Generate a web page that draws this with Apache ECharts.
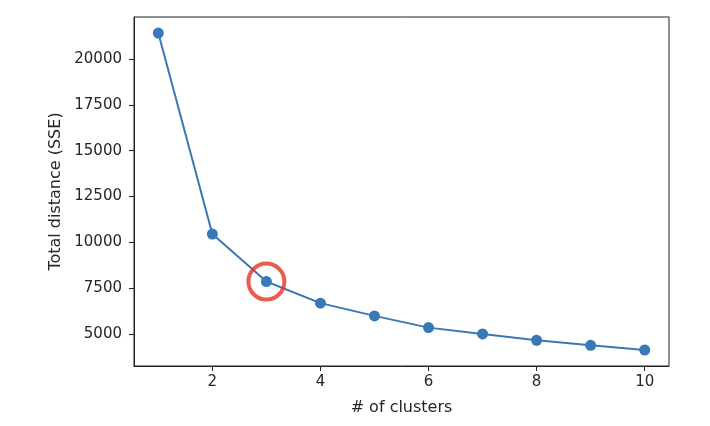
<!DOCTYPE html>
<html lang="en">
  <head>
    <meta charset="UTF-8" />
    <title>elbow</title>
    <script src="https://cdn.jsdelivr.net/npm/echarts@6/dist/echarts.min.js"></script>
    <style>
      html, body { margin: 0; padding: 0; background: #fff; }
      #main { width: 710px; height: 426px; }
    </style>
  </head>
  <body>
    <div id="main"></div>
    <script>
      const clusters = [1, 2, 3, 4, 5, 6, 7, 8, 9, 10]
      const sse = [21423, 10454, 7861, 6681, 5985, 5345, 5000, 4655, 4380, 4124]
      const xTicks = [2, 4, 6, 8, 10]
      const yTicks = [5000, 7500, 10000, 12500, 15000, 17500, 20000]
      const elbowIndex = 2

      const font = 'DejaVu Sans'
      const blue = '#3977b7'
      const ink = '#262626'

      const chart = echarts.init(document.getElementById('main'))
      chart.setOption({
        animation: false,
        backgroundColor: '#fff',
        grid: {
          left: 134, top: 17, right: 41, bottom: 60,
          show: true, borderColor: '#222', borderWidth: 1
        },
        xAxis: {
          type: 'value',
          min: 0.55, max: 10.45,
          name: '# of clusters',
          nameLocation: 'middle',
          nameGap: 34,
          nameTextStyle: { fontFamily: font, fontSize: 16, color: ink },
          axisLine: { show: true, onZero: false, lineStyle: { color: '#222' } },
          axisTick: { show: true, length: 5, customValues: xTicks, lineStyle: { color: '#222' } },
          axisLabel: { customValues: xTicks, fontFamily: font, fontSize: 15, color: ink, margin: 9 },
          splitLine: { show: false }
        },
        yAxis: {
          type: 'value',
          min: 3250, max: 22300,
          name: 'Total distance (SSE)',
          nameLocation: 'middle',
          nameGap: 70,
          nameTextStyle: { fontFamily: font, fontSize: 16, color: ink },
          axisLine: { show: true, onZero: false, lineStyle: { color: '#222' } },
          axisTick: { show: true, length: 5, customValues: yTicks, lineStyle: { color: '#222' } },
          axisLabel: {
            customValues: yTicks, fontFamily: font, fontSize: 15, color: ink, margin: 12,
            formatter: v => String(v)
          },
          splitLine: { show: false }
        },
        series: [
          {
            type: 'line',
            data: clusters.map((c, i) => [c, sse[i]]),
            symbol: 'circle',
            symbolSize: 11,
            lineStyle: { color: blue, width: 2 },
            itemStyle: { color: blue },
            z: 2
          },
          {
            type: 'scatter',
            data: [[clusters[elbowIndex], sse[elbowIndex]]],
            symbol: 'circle',
            symbolSize: 36,
            itemStyle: { color: 'rgba(0,0,0,0)', borderColor: '#e2341f', borderWidth: 4 },
            z: 3
          }
        ]
      })
    </script>
  </body>
</html>
